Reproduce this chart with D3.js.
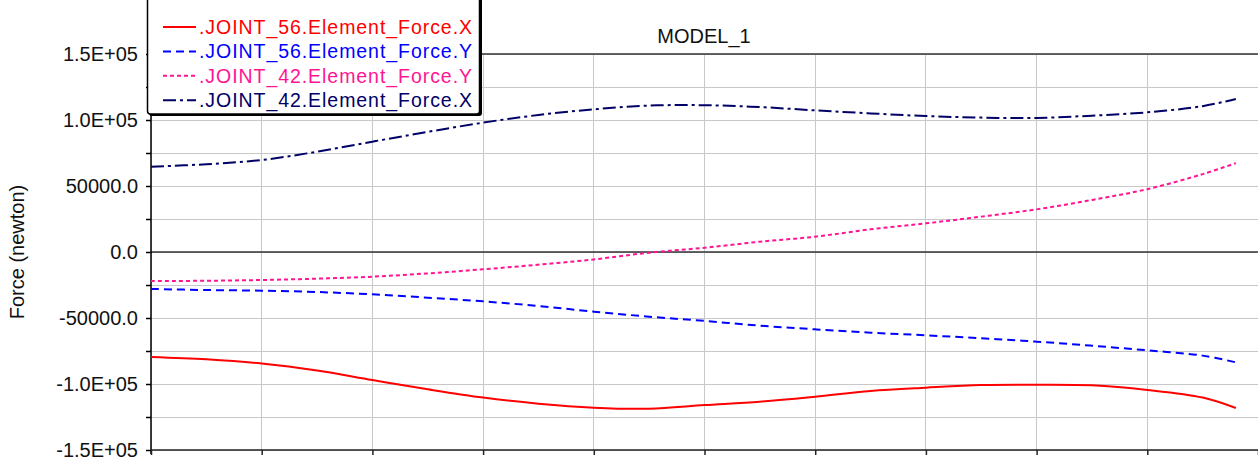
<!DOCTYPE html>
<html>
<head>
<meta charset="utf-8">
<script src="https://cdn.jsdelivr.net/npm/d3@7"></script>
<style>
    body { margin: 0; background: #fff; }
    #chart svg { display: block; }
    .grid line { stroke: #c8c8c8; stroke-width: 1; shape-rendering: crispEdges; }
    .tickLabel { font-family: "Liberation Sans", Arial, sans-serif; font-size: 20px; fill: #111; }
    .legendText { font-family: "Liberation Sans", Arial, sans-serif; font-size: 19.5px; }
</style>
</head>
<body>
<div id="chart"></div>
<script>
// time samples (x axis, one unit per vertical grid line)
const times = [0, 0.5, 1, 1.5, 2, 2.5, 3, 3.5, 4, 4.5, 5, 5.5, 6, 6.5, 7, 7.5, 8, 8.5, 9, 9.5, 9.8];

// forces (newton)
const joint56X = [-79500, -81300, -84500, -89800, -97000, -104000, -110300, -114900, -117900, -118700, -116000,
    -113400, -109600, -105300, -102800, -100800, -100500, -101000, -104500, -110300, -118200];
const joint56Y = [-28000, -28800, -29300, -30300, -32100, -34600, -37400, -40900, -45200, -49000, -52200,
    -55800, -58600, -61100, -63100, -65400, -67900, -71000, -74500, -78500, -83600];
const joint42Y = [-22000, -21800, -21200, -20200, -18700, -16200, -13100, -9600, -5600, -500, 3200,
    7800, 11600, 17200, 21700, 26800, 32300, 39400, 47600, 59000, 67300];
const joint42X = [64600, 66500, 69700, 76000, 83600, 91000, 98000, 103800, 108100, 110900, 111200,
    109800, 107300, 105000, 103000, 101800, 101600, 103300, 105800, 110500, 115900];

const seriesNames = [".JOINT_56.Element_Force.X", ".JOINT_56.Element_Force.Y",
    ".JOINT_42.Element_Force.Y", ".JOINT_42.Element_Force.X"];
const seriesColors = ["#ff0000", "#0000ff", "#ff1493", "#000066"];
const seriesDash = ["none", "8,5", "4,3", "13,4,3,4"];

const yTickValues = [150000, 100000, 50000, 0, -50000, -100000, -150000];
const yTickLabels = ["1.5E+05", "1.0E+05", "50000.0", "0.0", "-50000.0", "-1.0E+05", "-1.5E+05"];
const xTickValues = [0, 1, 2, 3, 4, 5, 6, 7, 8, 9, 10];

class ForceChart {
    constructor(){
        this.svgWidth = 1258;
        this.svgHeight = 458;
        this.margin = {top: 54, left: 151, bottom: 450, right: 1258};

        this.svg = d3.select("#chart").append("svg")
            .attr("width", this.svgWidth)
            .attr("height", this.svgHeight);

        this.x = d3.scaleLinear().domain([0, 10]).range([this.margin.left, this.margin.right]);
        this.y = d3.scaleLinear().domain([-150000, 150000]).range([this.margin.bottom, this.margin.top]);

        this.series = [joint56X, joint56Y, joint42Y, joint42X].map((vals, i) => ({
            name: seriesNames[i],
            color: seriesColors[i],
            dash: seriesDash[i],
            values: vals.map((v, j) => ({t: times[j], f: v}))
        }));
    }

    update(){
        let x = this.x, y = this.y;

        // grid lines (minor every 25000)
        let grid = this.svg.append("g").classed("grid", true);
        grid.selectAll(".hgrid")
            .data(d3.range(-150000, 150001, 25000))
            .enter().append("line")
            .attr("x1", x(0)).attr("x2", this.svgWidth + 5)
            .attr("y1", d => y(d)).attr("y2", d => y(d));
        grid.selectAll(".vgrid")
            .data(xTickValues)
            .enter().append("line")
            .attr("x1", d => x(d)).attr("x2", d => x(d))
            .attr("y1", y(150000)).attr("y2", y(-150000));

        // top frame + zero line
        this.svg.append("line")
            .attr("x1", x(0)).attr("x2", this.svgWidth + 5)
            .attr("y1", y(150000)).attr("y2", y(150000))
            .style("stroke", "#333").style("stroke-width", 1.5);
        this.svg.append("line")
            .attr("x1", x(0)).attr("x2", this.svgWidth + 5)
            .attr("y1", y(0)).attr("y2", y(0))
            .style("stroke", "#333").style("stroke-width", 1.5);

        // left axis, ticks on every grid line, labels only on the major ones
        let yAxis = d3.axisLeft(y)
            .tickValues(d3.range(-150000, 150001, 25000))
            .tickSize(5)
            .tickFormat("");
        let ya = this.svg.append("g")
            .attr("transform", `translate(${x(0)},0)`)
            .call(yAxis);
        ya.select(".domain").attr("d", `M0,${y(150000)}V${y(-150000) + 4}`);
        ya.selectAll("path, line").style("stroke", "#000").style("stroke-width", 1.5);

        this.svg.selectAll(".tickLabel")
            .data(yTickValues)
            .enter().append("text")
            .classed("tickLabel", true)
            .attr("x", 138)
            .attr("y", d => y(d))
            .attr("dy", "0.36em")
            .style("text-anchor", "end")
            .text((d, i) => yTickLabels[i]);

        // bottom axis (labels fall outside the picture)
        let xa = this.svg.append("g")
            .attr("transform", `translate(0,${y(-150000)})`)
            .call(d3.axisBottom(x).tickValues(xTickValues).tickSize(5).tickFormat(""));
        xa.select(".domain").attr("d", `M${x(0)},0H${this.svgWidth + 5}`);
        xa.selectAll("path, line").style("stroke", "#222").style("stroke-width", 1.5);

        // the lines
        let line = d3.line()
            .x(d => x(d.t))
            .y(d => y(d.f))
            .curve(d3.curveCatmullRom.alpha(0.5));
        this.svg.selectAll(".forceLine")
            .data(this.series)
            .enter().append("path")
            .classed("forceLine", true)
            .attr("d", d => line(d.values))
            .style("fill", "none")
            .style("stroke", d => d.color)
            .style("stroke-width", 2)
            .style("stroke-dasharray", d => d.dash);

        // title + y label
        this.svg.append("text")
            .attr("x", 704).attr("y", 43)
            .style("text-anchor", "middle")
            .style("font-family", "Liberation Sans, Arial, sans-serif")
            .style("font-size", "20px")
            .style("fill", "#111")
            .text("MODEL_1");
        this.svg.append("text")
            .attr("transform", `translate(24,${y(0)}) rotate(-90)`)
            .style("text-anchor", "middle")
            .style("font-family", "Liberation Sans, Arial, sans-serif")
            .style("font-size", "20px")
            .style("fill", "#111")
            .text("Force (newton)");

        this.drawLegend();
    }

    drawLegend(){
        let lg = this.svg.append("g");
        // shadow then box
        lg.append("rect")
            .attr("x", 149).attr("y", -10)
            .attr("width", 333).attr("height", 126)
            .attr("rx", 3)
            .style("fill", "#000");
        lg.append("rect")
            .attr("x", 147.5).attr("y", -10)
            .attr("width", 332).attr("height", 124)
            .attr("rx", 3)
            .style("fill", "#fff")
            .style("stroke", "#000")
            .style("stroke-width", 1.5);

        let rows = lg.selectAll(".legendRow")
            .data(this.series)
            .enter().append("g")
            .attr("transform", (d, i) => `translate(0,${27 + i * 24.4})`);
        rows.append("line")
            .attr("x1", 163).attr("x2", 196)
            .attr("y1", 0).attr("y2", 0)
            .style("stroke", d => d.color)
            .style("stroke-width", 2)
            .style("stroke-dasharray", d => d.dash);
        rows.append("text")
            .classed("legendText", true)
            .attr("x", 199)
            .attr("y", 0)
            .attr("dy", "0.36em")
            .attr("textLength", 273)
            .style("fill", d => d.color)
            .text(d => d.name);
    }
}

let chart = new ForceChart();
chart.update();
</script>
</body>
</html>
